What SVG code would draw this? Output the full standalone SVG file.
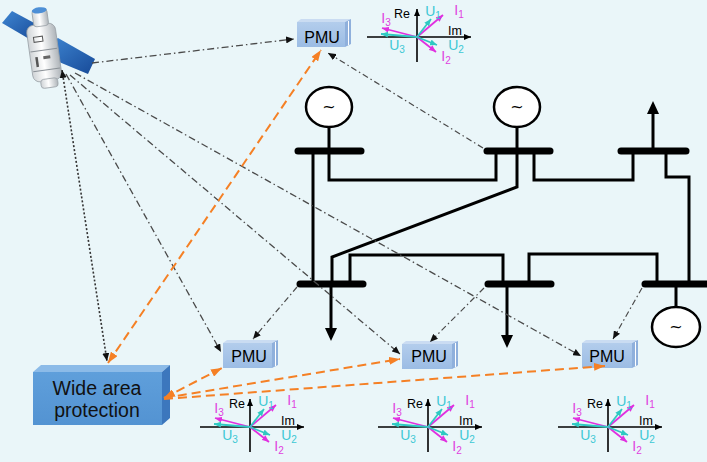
<svg xmlns="http://www.w3.org/2000/svg" width="707" height="462" viewBox="0 0 707 462">
  <defs>
    <style>
      .bus{stroke:#000;stroke-width:7;stroke-linecap:round;fill:none}
      .ln{stroke:#000;stroke-width:3;fill:none;stroke-linejoin:miter}
      .gen{fill:#fff;stroke:#000;stroke-width:2.5}
      .sat{stroke:#4a4a4a;stroke-width:1.3;fill:none;stroke-dasharray:7 3 1.5 3}
      .dotl{stroke:#333;stroke-width:1.6;fill:none;stroke-dasharray:2 2}
      .meas{stroke:#4a4a4a;stroke-width:1.2;fill:none;stroke-dasharray:6 3 1.5 3}
      .ora{stroke:#f58025;stroke-width:2;fill:none;stroke-dasharray:9 5}
      .ax{stroke:#000;stroke-width:1.6;fill:none}
      .mg{stroke:#e030e0;stroke-width:1.8;fill:none}
      .cy{stroke:#2fc9c2;stroke-width:1.8;fill:none}
      .pf{fill:url(#pmuFront)}
      .pt{fill:#cadcf2}
      .ps{fill:#8fb0dc}
      .pmu{font-family:"Liberation Sans",Arial,sans-serif;font-size:16px;fill:#000;text-anchor:middle}
      .wap{font-family:"Liberation Sans",Arial,sans-serif;font-size:19.5px;fill:#111;text-anchor:middle}
      .ri{font-family:"Liberation Sans",Arial,sans-serif;font-size:12.5px;fill:#000;text-anchor:middle}
      .til{font-family:"DejaVu Sans",sans-serif;font-size:16px;fill:#000;text-anchor:middle}
      .lm{font-family:"Liberation Sans",Arial,sans-serif;font-size:14px;fill:#e040e0;text-anchor:middle}
      .lc{font-family:"Liberation Sans",Arial,sans-serif;font-size:14px;fill:#3cc8d4;text-anchor:middle}
      .sub{font-size:10px}
    </style>
    <linearGradient id="pmuFront" x1="0" y1="0" x2="0" y2="1">
      <stop offset="0" stop-color="#b3cdec"/>
      <stop offset="1" stop-color="#9bbce4"/>
    </linearGradient>
    <linearGradient id="wapFront" x1="0" y1="0" x2="0" y2="1">
      <stop offset="0" stop-color="#5f9fdb"/>
      <stop offset="1" stop-color="#5393d2"/>
    </linearGradient>
    <linearGradient id="panel" x1="0" y1="0" x2="1" y2="1">
      <stop offset="0" stop-color="#3f86d2"/>
      <stop offset="1" stop-color="#174a98"/>
    </linearGradient>
    <linearGradient id="bodyG" x1="0" y1="0" x2="1" y2="0">
      <stop offset="0" stop-color="#cfd3d6"/>
      <stop offset="0.45" stop-color="#ffffff"/>
      <stop offset="1" stop-color="#aeb4b9"/>
    </linearGradient>
    <marker id="ah" viewBox="0 0 8 7" refX="8" refY="3.5" markerWidth="8" markerHeight="7" markerUnits="userSpaceOnUse" orient="auto-start-reverse">
      <path d="M0,0 L8,3.5 L0,7 z" fill="#111"/>
    </marker>
    <marker id="ao" viewBox="0 0 11 8" refX="11" refY="4" markerWidth="11" markerHeight="8" markerUnits="userSpaceOnUse" orient="auto-start-reverse">
      <path d="M0,0 L11,4 L0,8 z" fill="#f58025"/>
    </marker>
    <marker id="ax" viewBox="0 0 7 6" refX="7" refY="3" markerWidth="7" markerHeight="6" markerUnits="userSpaceOnUse" orient="auto">
      <path d="M0,0 L7,3 L0,6 z" fill="#000"/>
    </marker>
    <marker id="am" viewBox="0 0 7 6" refX="7" refY="3" markerWidth="7" markerHeight="6" markerUnits="userSpaceOnUse" orient="auto">
      <path d="M0,0 L7,3 L0,6 z" fill="#e030e0"/>
    </marker>
    <marker id="ac" viewBox="0 0 7 6" refX="7" refY="3" markerWidth="7" markerHeight="6" markerUnits="userSpaceOnUse" orient="auto">
      <path d="M0,0 L7,3 L0,6 z" fill="#2fc9c2"/>
    </marker>
  </defs>

  <rect width="707" height="462" fill="#eaf6f9"/>

  <!-- power grid -->
  <g id="grid">
    <path class="ln" d="M313,151 V284"/>
    <path class="ln" d="M329,151 V180 H496 V151"/>
    <path class="ln" d="M534,151 V180 H633 V151"/>
    <path class="ln" d="M666,151 V177 H689 V284"/>
    <path class="ln" d="M517,127 V187 L332,257 V284"/>
    <path class="ln" d="M350,284 V255 H503 V284"/>
    <path class="ln" d="M529,284 V254 H657 V284"/>
    <path class="ln" d="M329,127 V151"/>
    <path class="ln" d="M676,284 V307"/>
    <!-- loads -->
    <path class="ln" d="M331,284 V330"/>
    <polygon points="325,328 337,328 331,341" fill="#000"/>
    <path class="ln" d="M507,284 V337"/>
    <polygon points="501,335 513,335 507,348" fill="#000"/>
    <path class="ln" d="M653,151 V112"/>
    <polygon points="647,114 659,114 653,101" fill="#000"/>
    <!-- busbars -->
    <line class="bus" x1="298" y1="151" x2="361" y2="151"/>
    <line class="bus" x1="487" y1="151" x2="550" y2="151"/>
    <line class="bus" x1="621" y1="151" x2="686" y2="151"/>
    <line class="bus" x1="300" y1="284" x2="363" y2="284"/>
    <line class="bus" x1="488" y1="284" x2="551" y2="284"/>
    <line class="bus" x1="645" y1="284" x2="712" y2="284"/>
  </g>

  <g id="gen-1"><ellipse class="gen" cx="329" cy="107" rx="23" ry="20"/><text class="til" x="329" y="112">~</text></g>
  <g id="gen-2"><ellipse class="gen" cx="517" cy="107" rx="23" ry="20"/><text class="til" x="517" y="112">~</text></g>
  <g id="gen-3"><ellipse class="gen" cx="676" cy="327" rx="24" ry="20"/><text class="til" x="676" y="332">~</text></g>

  <!-- satellite -->
  <g id="satellite">
    <polygon points="2,23 12,11 38,25 31,40" fill="url(#panel)"/>
    <polygon points="51,42 58,38 95,59 88,74 47,57" fill="url(#panel)"/>
    <g transform="rotate(-8 44 48)">
      <rect x="29" y="24" width="29" height="57" rx="7" fill="url(#bodyG)" stroke="#9aa1a6" stroke-width="0.8"/>
      <rect x="37" y="9" width="15" height="17" rx="3" fill="url(#bodyG)" stroke="#9aa1a6" stroke-width="0.8"/>
      <ellipse cx="44.5" cy="10" rx="7.5" ry="3" fill="#4d8fd6"/>
      <rect x="36" y="79" width="17" height="9" rx="3" fill="url(#bodyG)" stroke="#9aa1a6" stroke-width="0.8"/>
      <rect x="35" y="36" width="9" height="5" fill="none" stroke="#555" stroke-width="1"/>
      <line x1="30" y1="50" x2="57" y2="50" stroke="#8a9096" stroke-width="1"/>
      <rect x="34" y="56" width="2.5" height="10" fill="#555"/>
      <rect x="42" y="56" width="7" height="3" fill="#666"/>
      <line x1="30" y1="70" x2="57" y2="70" stroke="#8a9096" stroke-width="1"/>
    </g>
  </g>

  <!-- PMUs -->
  <g id="pmu-top">
    <rect class="pf" x="297" y="22" width="48" height="25"/>
    <polygon class="pt" points="297,22 301,19 351,19 345,22"/>
    <polygon class="ps" points="345,22 351,19 351,44 345,47"/>
    <line x1="348.5" y1="21" x2="348.5" y2="45" stroke="#fff" stroke-width="1"/>
    <text class="pmu" x="322" y="43">PMU</text>
  </g>
  <g id="pmu-1">
    <rect class="pf" x="223" y="343" width="49" height="25"/>
    <polygon class="pt" points="223,343 227,340 278,340 272,343"/>
    <polygon class="ps" points="272,343 278,340 278,365 272,368"/>
    <line x1="275.5" y1="342" x2="275.5" y2="366" stroke="#fff" stroke-width="1"/>
    <text class="pmu" x="249" y="362">PMU</text>
  </g>
  <g id="pmu-2">
    <rect class="pf" x="402" y="344" width="50" height="25"/>
    <polygon class="pt" points="402,344 406,341 458,341 452,344"/>
    <polygon class="ps" points="452,344 458,341 458,366 452,369"/>
    <line x1="455.5" y1="343" x2="455.5" y2="367" stroke="#fff" stroke-width="1"/>
    <text class="pmu" x="429" y="362">PMU</text>
  </g>
  <g id="pmu-3">
    <rect class="pf" x="582" y="343" width="50" height="25"/>
    <polygon class="pt" points="582,343 586,340 638,340 632,343"/>
    <polygon class="ps" points="632,343 638,340 638,365 632,368"/>
    <line x1="635.5" y1="342" x2="635.5" y2="366" stroke="#fff" stroke-width="1"/>
    <text class="pmu" x="607" y="362">PMU</text>
  </g>

  <!-- wide area protection -->
  <g id="wide-area-protection">
    <rect x="33" y="372" width="129" height="53" fill="url(#wapFront)"/>
    <polygon points="33,372 41,365 170,365 162,372" fill="#8cbbe8"/>
    <polygon points="162,372 170,365 170,418 162,425" fill="#3c77bd"/>
    <text class="wap" x="97" y="395">Wide area</text>
    <text class="wap" x="97" y="417">protection</text>
  </g>

  <!-- communication and measurement links -->
  <g id="connectors">
    <path class="sat" d="M92,63 L294,39" marker-end="url(#ah)"/>
    <path class="dotl" d="M62,70 L107,361" marker-start="url(#ah)" marker-end="url(#ah)"/>
    <path class="sat" d="M66,74 L221,352" marker-end="url(#ah)"/>
    <path class="sat" d="M70,75 L400,354" marker-end="url(#ah)"/>
    <path class="sat" d="M75,73 L581,356" marker-end="url(#ah)"/>
    <path class="meas" d="M483,148 L328,53" marker-end="url(#ah)"/>
    <path class="meas" d="M297,287 L253,339" marker-end="url(#ah)"/>
    <path class="meas" d="M484,288 L430,342" marker-end="url(#ah)"/>
    <path class="meas" d="M642,288 L613,339" marker-end="url(#ah)"/>
    <path class="ora" d="M108,363 L321,50" marker-start="url(#ao)" marker-end="url(#ao)"/>
    <path class="ora" d="M164,398 L222,368" marker-start="url(#ao)" marker-end="url(#ao)"/>
    <path class="ora" d="M164,398 L400,359" marker-end="url(#ao)"/>
    <path class="ora" d="M164,399 L605,366" marker-end="url(#ao)"/>
  </g>

  <!-- phasor diagrams -->
  <g id="phasor-top" transform="translate(417,37)">
    <path class="ax" d="M-50,0 H54" marker-end="url(#ax)"/>
    <path class="ax" d="M0,25 V-28" marker-end="url(#ax)"/>
    <path class="mg" d="M0,0 L26,-22" marker-end="url(#am)"/>
    <path class="cy" d="M0,0 L14,-18" marker-end="url(#ac)"/>
    <path class="mg" d="M0,0 L-35,-9" marker-end="url(#am)"/>
    <path class="cy" d="M0,0 L-36,-3" marker-end="url(#ac)"/>
    <path class="mg" d="M0,0 L19,15" marker-end="url(#am)"/>
    <path class="cy" d="M0,0 L20,8" marker-end="url(#ac)"/>
    <text class="ri" x="-15" y="-19">Re</text>
    <text class="ri" x="38" y="-2">Im</text>
    <text class="lc" x="16" y="-21">U<tspan class="sub" dy="3">1</tspan></text>
    <text class="lm" x="42" y="-22">I<tspan class="sub" dy="3">1</tspan></text>
    <text class="lm" x="-31" y="-14">I<tspan class="sub" dy="3">3</tspan></text>
    <text class="lc" x="-20" y="13">U<tspan class="sub" dy="3">3</tspan></text>
    <text class="lc" x="39" y="13">U<tspan class="sub" dy="3">2</tspan></text>
    <text class="lm" x="29" y="24">I<tspan class="sub" dy="3">2</tspan></text>
  </g>
  <g id="phasor-1" transform="translate(250,427)">
    <path class="ax" d="M-50,0 H54" marker-end="url(#ax)"/>
    <path class="ax" d="M0,25 V-28" marker-end="url(#ax)"/>
    <path class="mg" d="M0,0 L26,-22" marker-end="url(#am)"/>
    <path class="cy" d="M0,0 L14,-18" marker-end="url(#ac)"/>
    <path class="mg" d="M0,0 L-35,-9" marker-end="url(#am)"/>
    <path class="cy" d="M0,0 L-36,-3" marker-end="url(#ac)"/>
    <path class="mg" d="M0,0 L19,15" marker-end="url(#am)"/>
    <path class="cy" d="M0,0 L20,8" marker-end="url(#ac)"/>
    <text class="ri" x="-13" y="-19">Re</text>
    <text class="ri" x="38" y="-2">Im</text>
    <text class="lc" x="16" y="-21">U<tspan class="sub" dy="3">1</tspan></text>
    <text class="lm" x="42" y="-22">I<tspan class="sub" dy="3">1</tspan></text>
    <text class="lm" x="-31" y="-14">I<tspan class="sub" dy="3">3</tspan></text>
    <text class="lc" x="-20" y="13">U<tspan class="sub" dy="3">3</tspan></text>
    <text class="lc" x="39" y="13">U<tspan class="sub" dy="3">2</tspan></text>
    <text class="lm" x="29" y="24">I<tspan class="sub" dy="3">2</tspan></text>
  </g>
  <g id="phasor-2" transform="translate(428,427)">
    <path class="ax" d="M-50,0 H54" marker-end="url(#ax)"/>
    <path class="ax" d="M0,25 V-28" marker-end="url(#ax)"/>
    <path class="mg" d="M0,0 L26,-22" marker-end="url(#am)"/>
    <path class="cy" d="M0,0 L14,-18" marker-end="url(#ac)"/>
    <path class="mg" d="M0,0 L-35,-9" marker-end="url(#am)"/>
    <path class="cy" d="M0,0 L-36,-3" marker-end="url(#ac)"/>
    <path class="mg" d="M0,0 L19,15" marker-end="url(#am)"/>
    <path class="cy" d="M0,0 L20,8" marker-end="url(#ac)"/>
    <text class="ri" x="-13" y="-19">Re</text>
    <text class="ri" x="38" y="-2">Im</text>
    <text class="lc" x="16" y="-21">U<tspan class="sub" dy="3">1</tspan></text>
    <text class="lm" x="42" y="-22">I<tspan class="sub" dy="3">1</tspan></text>
    <text class="lm" x="-31" y="-14">I<tspan class="sub" dy="3">3</tspan></text>
    <text class="lc" x="-20" y="13">U<tspan class="sub" dy="3">3</tspan></text>
    <text class="lc" x="39" y="13">U<tspan class="sub" dy="3">2</tspan></text>
    <text class="lm" x="29" y="24">I<tspan class="sub" dy="3">2</tspan></text>
  </g>
  <g id="phasor-3" transform="translate(608,427)">
    <path class="ax" d="M-50,0 H54" marker-end="url(#ax)"/>
    <path class="ax" d="M0,25 V-28" marker-end="url(#ax)"/>
    <path class="mg" d="M0,0 L26,-22" marker-end="url(#am)"/>
    <path class="cy" d="M0,0 L14,-18" marker-end="url(#ac)"/>
    <path class="mg" d="M0,0 L-35,-9" marker-end="url(#am)"/>
    <path class="cy" d="M0,0 L-36,-3" marker-end="url(#ac)"/>
    <path class="mg" d="M0,0 L19,15" marker-end="url(#am)"/>
    <path class="cy" d="M0,0 L20,8" marker-end="url(#ac)"/>
    <text class="ri" x="-13" y="-19">Re</text>
    <text class="ri" x="38" y="-2">Im</text>
    <text class="lc" x="16" y="-21">U<tspan class="sub" dy="3">1</tspan></text>
    <text class="lm" x="42" y="-22">I<tspan class="sub" dy="3">1</tspan></text>
    <text class="lm" x="-31" y="-14">I<tspan class="sub" dy="3">3</tspan></text>
    <text class="lc" x="-20" y="13">U<tspan class="sub" dy="3">3</tspan></text>
    <text class="lc" x="39" y="13">U<tspan class="sub" dy="3">2</tspan></text>
    <text class="lm" x="29" y="24">I<tspan class="sub" dy="3">2</tspan></text>
  </g>
</svg>
